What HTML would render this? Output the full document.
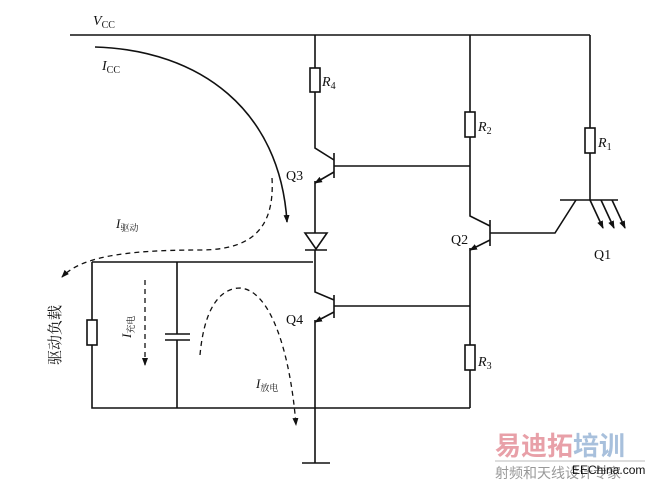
<!DOCTYPE html><html><head><style>body{margin:0;background:#fff}svg text{font-family:"Liberation Serif","Noto Serif CJK SC",serif;fill:#111}</style></head><body>
<svg width="650" height="483" viewBox="0 0 650 483" xmlns="http://www.w3.org/2000/svg">
<defs><marker id="a" markerWidth="8" markerHeight="8" refX="7" refY="4" orient="auto" markerUnits="userSpaceOnUse"><path d="M0,1 L8,4 L0,7 Z" fill="#111"/></marker></defs>
<g stroke="#111" stroke-width="1.6" fill="none">
<path d="M70,35 H590"/>
<path d="M315,35 V68 M315,92 V148 L334,160"/>
<rect x="310" y="68" width="10" height="24" fill="#fff"/>
<path d="M334,153 V178 M334,166 H470"/>
<path d="M334,172 L315,183" marker-end="url(#a)"/>
<path d="M315,181 V233"/>
<path d="M305,233 H327 L316,249 Z M305,250 H327"/>
<path d="M315,250 V292 L334,300 M334,295 V318 M334,306 H470"/>
<path d="M334,312 L315,322" marker-end="url(#a)"/>
<path d="M315,320 V463 M302,463 H330"/>
<path d="M92,262 H313 M92,262 V320 M92,345 V408 H470"/>
<rect x="87" y="320" width="10" height="25" fill="#fff"/>
<path d="M177,262 V334 M165,334 H190 M165,340 H190 M177,340 V408"/>
<path d="M470,35 V112 M470,137 V216 L490,226"/>
<rect x="465" y="112" width="10" height="25" fill="#fff"/>
<path d="M490,220 V246 M490,233 H555 L576,200"/>
<path d="M490,240 L470,250" marker-end="url(#a)"/>
<path d="M470,248 V345 M470,370 V408"/>
<rect x="465" y="345" width="10" height="25" fill="#fff"/>
<path d="M590,35 V128 M590,153 V200 M560,200 H618"/>
<rect x="585" y="128" width="10" height="25" fill="#fff"/>
<path d="M590,200 L603,228" marker-end="url(#a)"/>
<path d="M601,200 L614,228" marker-end="url(#a)"/>
<path d="M612,200 L625,228" marker-end="url(#a)"/>
<path d="M95,47 C200,50 280,110 287,222" marker-end="url(#a)"/>
<g stroke-dasharray="5,4" stroke-width="1.3">
<path d="M272,178 C275,230 250,250 200,250 C120,250 80,258 62,277" marker-end="url(#a)"/>
<path d="M145,280 V365" marker-end="url(#a)"/>
<path d="M200,355 C205,300 225,288 240,288 C270,290 290,350 296,425" marker-end="url(#a)"/>
</g></g>
<text x="93" y="25" font-size="14" font-style="italic">V<tspan font-size="10" font-style="normal" dy="3">CC</tspan></text>
<text x="102" y="70" font-size="14" font-style="italic">I<tspan font-size="10" font-style="normal" dy="3">CC</tspan></text>
<text x="322" y="86" font-size="14" font-style="italic">R<tspan font-size="10" font-style="normal" dy="3">4</tspan></text>
<text x="478" y="131" font-size="14" font-style="italic">R<tspan font-size="10" font-style="normal" dy="3">2</tspan></text>
<text x="598" y="147" font-size="14" font-style="italic">R<tspan font-size="10" font-style="normal" dy="3">1</tspan></text>
<text x="478" y="366" font-size="14" font-style="italic">R<tspan font-size="10" font-style="normal" dy="3">3</tspan></text>
<text x="286" y="180" font-size="14">Q3</text>
<text x="451" y="244" font-size="14">Q2</text>
<text x="286" y="324" font-size="14">Q4</text>
<text x="594" y="259" font-size="14">Q1</text>
<text x="116" y="228" font-size="13" font-style="italic">I<tspan font-size="9" font-style="normal" dy="3">驱动</tspan></text>
<text x="256" y="388" font-size="13" font-style="italic">I<tspan font-size="9" font-style="normal" dy="3">放电</tspan></text>
<text transform="translate(131,338) rotate(-90)" font-size="13" font-style="italic">I<tspan font-size="9" font-style="normal" dy="3">充电</tspan></text>
<text transform="translate(60,365) rotate(-90)" font-size="15">驱动负载</text>
<text x="495" y="455" font-size="26" font-weight="bold" style="fill:#e8a0a8;font-family:'Noto Sans CJK SC',sans-serif">易迪拓</text>
<text x="573" y="455" font-size="26" font-weight="bold" style="fill:#a8c0dc;font-family:'Noto Sans CJK SC',sans-serif">培训</text>
<line x1="495" y1="461" x2="645" y2="461" stroke="#bbb"/>
<text x="495" y="478" font-size="14" style="fill:#999;font-family:'Noto Sans CJK SC',sans-serif">射频和天线设计专家</text>
<text x="572" y="474" font-size="12" style="fill:#111;font-family:'Liberation Sans',sans-serif">EEChina.com</text>
</svg></body></html>
